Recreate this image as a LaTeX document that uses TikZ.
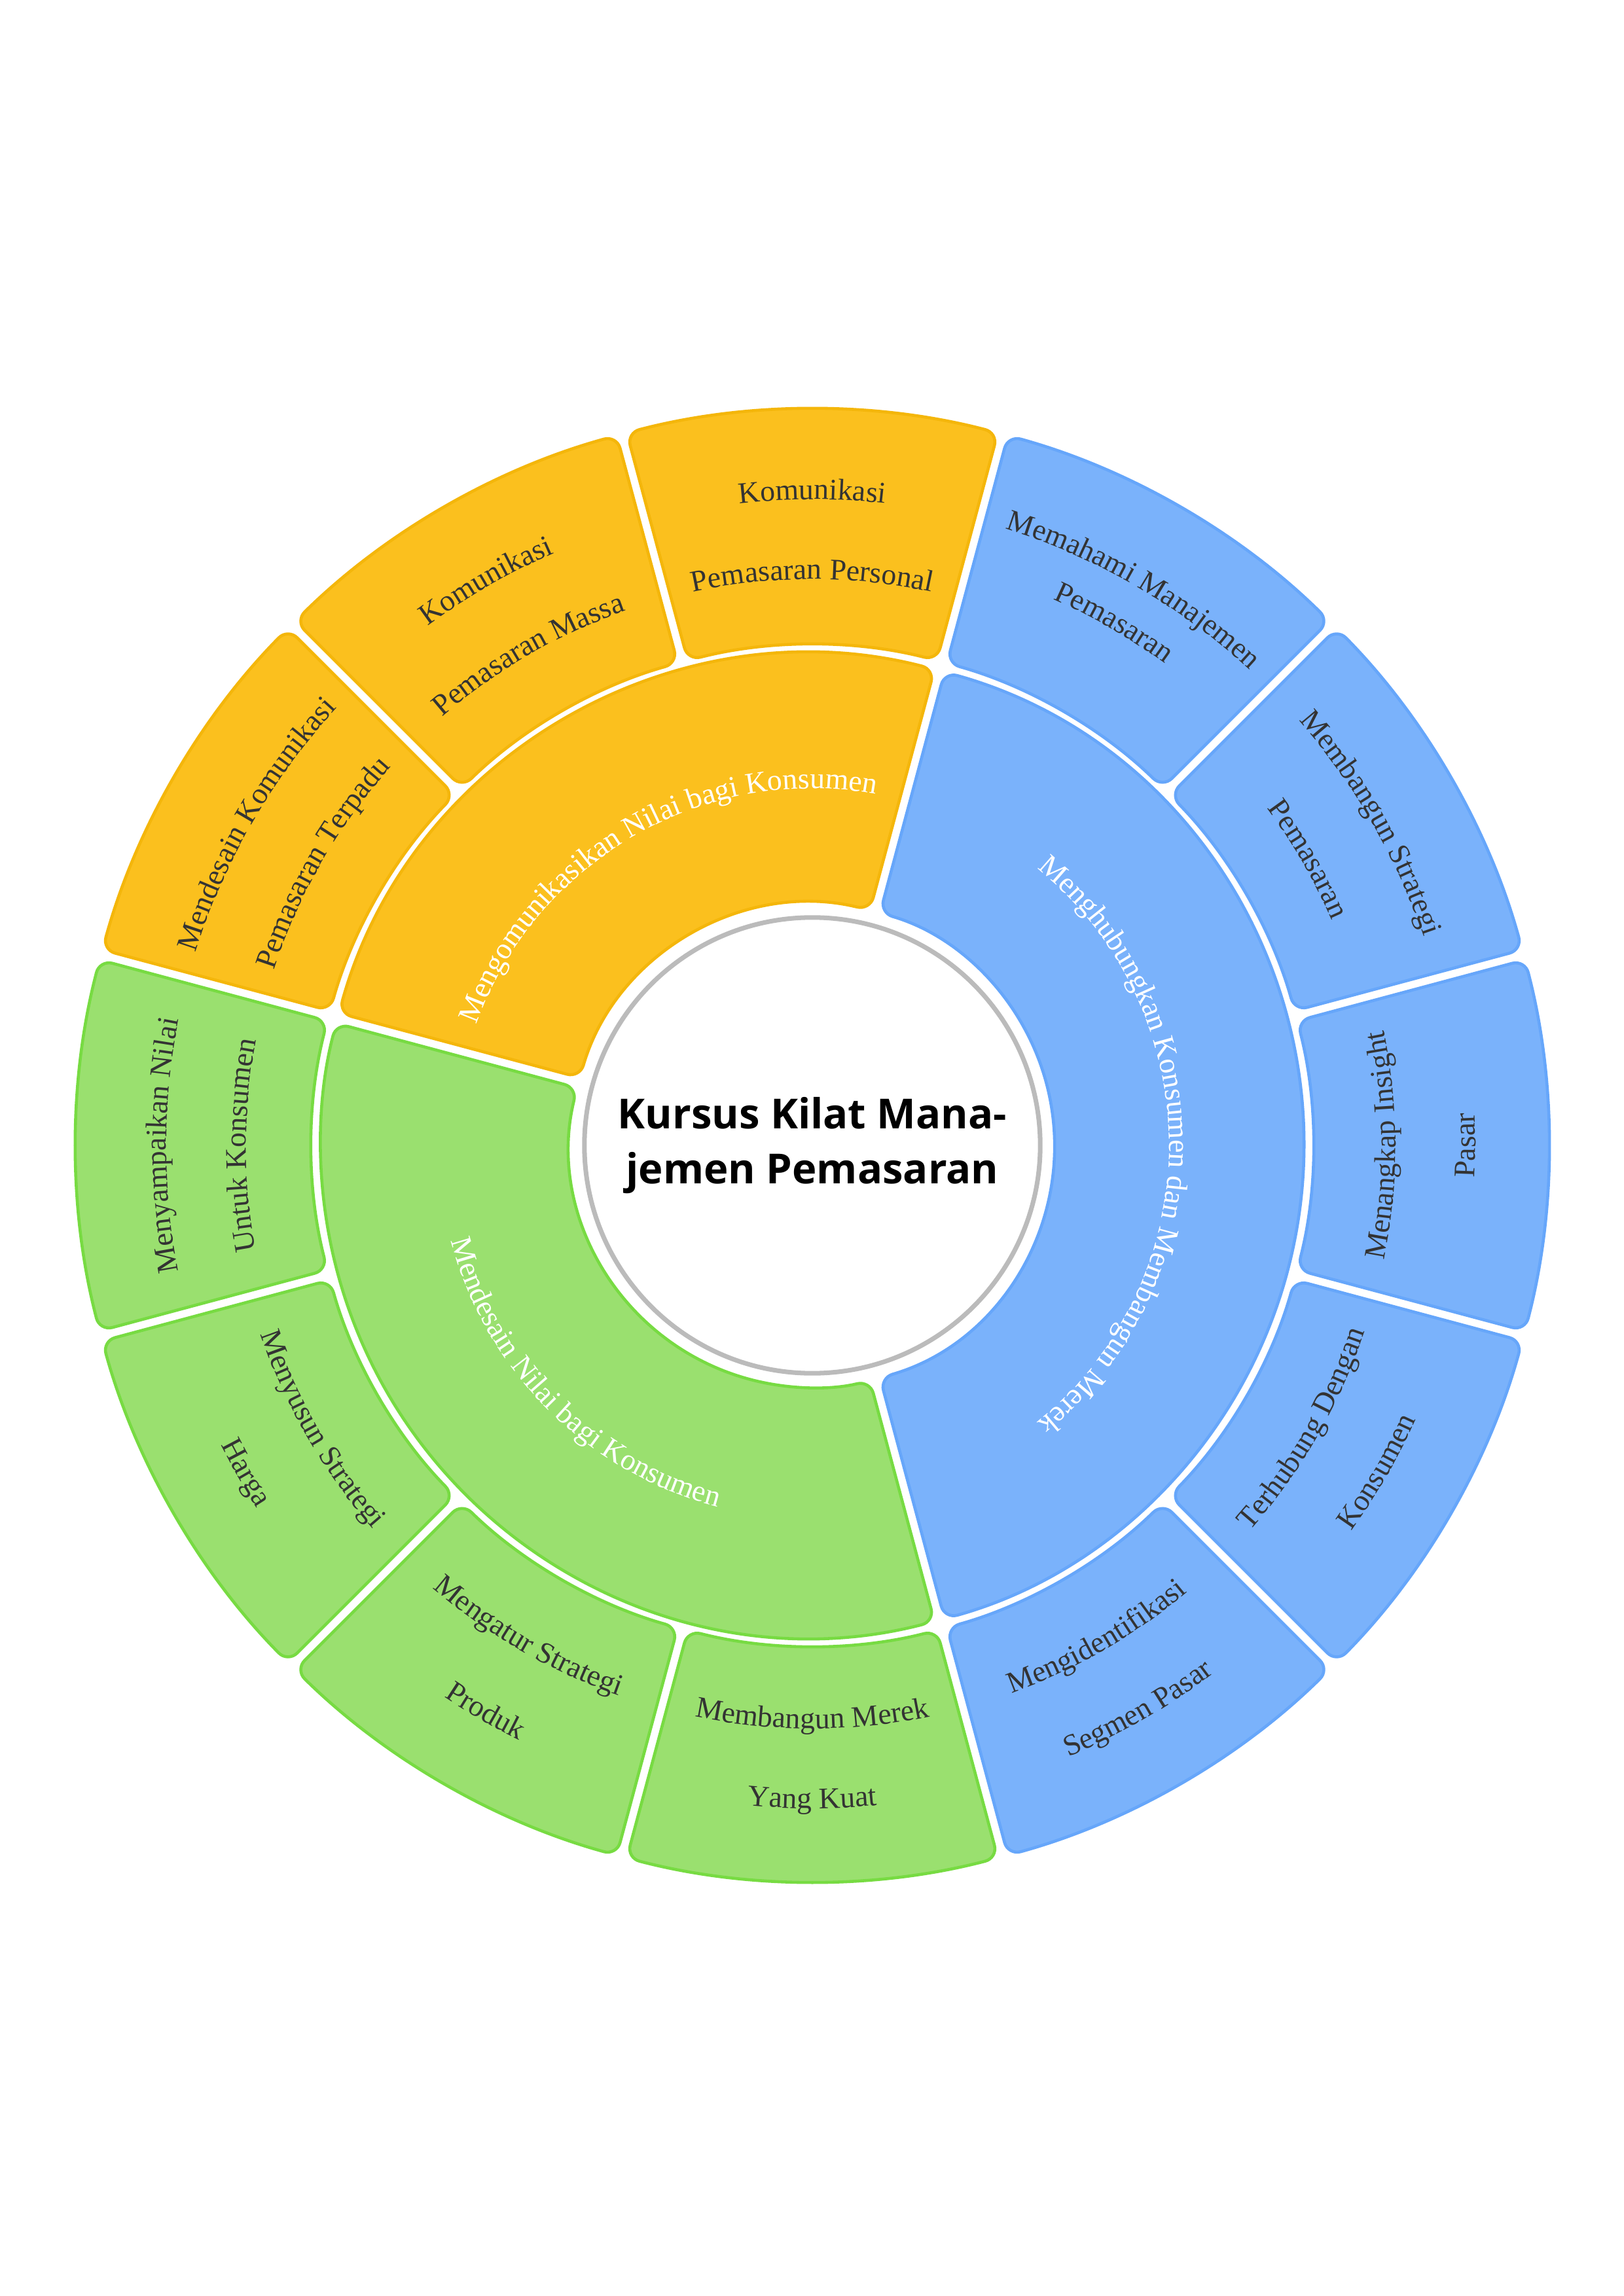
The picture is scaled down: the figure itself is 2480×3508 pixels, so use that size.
\documentclass[tikz,border=0pt]{standalone}
\usepackage{fontspec}
\setmainfont{Liberation Serif}
\newfontfamily\judulfont{Open Sans}
\usetikzlibrary{decorations.text}

\definecolor{kuningisi}{HTML}{FBC01E}
\definecolor{kuningtepi}{HTML}{F4B60A}
\definecolor{biruisi}{HTML}{7AB2FB}
\definecolor{birutepi}{HTML}{66A6FA}
\definecolor{hijauisi}{HTML}{9AE06F}
\definecolor{hijautepi}{HTML}{77DB42}
\definecolor{abutepi}{HTML}{BBBBBB}
\definecolor{teksgelap}{HTML}{333333}

% sektor cincin: sudut awal (besar), sudut akhir, r dalam, r luar, gaya
\newcommand{\sektor}[5]{%
  \pgfmathsetmacro{\sudutA}{#1-asin(8/#4)}%
  \pgfmathsetmacro{\sudutB}{#2+asin(8/#4)}%
  \pgfmathsetmacro{\sudutC}{#2+asin(8/#3)}%
  \pgfmathsetmacro{\sudutD}{#1-asin(8/#3)}%
  \draw[#5] (\sudutA:#4) arc[start angle=\sudutA,end angle=\sudutB,radius=#4]
    -- (\sudutC:#3) arc[start angle=\sudutC,end angle=\sudutD,radius=#3] -- cycle;}

% teks melengkung: sudut mulai, sudut akhir, radius, warna, teks
\newcommand{\tulisbusur}[5]{%
  \path[decorate,decoration={text along path,text align=center,
    text={|\fontsize{13}{15}\selectfont\color{#4}|#5}}]
    (#1:#3) arc[start angle=#1,end angle=#2,radius=#3];}

\begin{document}
\begin{tikzpicture}[x=0.01cm,y=0.01cm,
  seg/.style={line width=1.3pt,rounded corners=0.2cm},
  kuning/.style={seg,fill=kuningisi,draw=kuningtepi},
  biru/.style={seg,fill=biruisi,draw=birutepi},
  hijau/.style={seg,fill=hijauisi,draw=hijautepi},
  judul/.style={circle,draw=abutepi,line width=2pt,fill=white,
    minimum size=6.96cm,inner sep=0pt,align=center,
    font=\judulfont\bfseries\fontsize{18}{24}\selectfont}]
\useasboundingbox (-1241,-1758) rectangle (1239,1750);

% cincin dalam
\sektor{165}{75}{370}{751}{kuning}
\sektor{75}{-75}{370}{751}{biru}
\sektor{285}{165}{370}{751}{hijau}

% cincin luar
\sektor{105}{75}{765}{1125}{kuning}
\sektor{135}{105}{765}{1125}{kuning}
\sektor{165}{135}{765}{1125}{kuning}
\sektor{195}{165}{765}{1125}{hijau}
\sektor{225}{195}{765}{1125}{hijau}
\sektor{255}{225}{765}{1125}{hijau}
\sektor{285}{255}{765}{1125}{hijau}
\sektor{315}{285}{765}{1125}{biru}
\sektor{345}{315}{765}{1125}{biru}
\sektor{15}{-15}{765}{1125}{biru}
\sektor{45}{15}{765}{1125}{biru}
\sektor{75}{45}{765}{1125}{biru}

% label cincin dalam
\tulisbusur{165}{75}{545}{white}{Mengomunikasikan Nilai bagi Konsumen}
\tulisbusur{75}{-75}{545}{white}{Menghubungkan Konsumen dan Membangun Merek}
\tulisbusur{165}{285}{571}{white}{Mendesain Nilai bagi Konsumen}

% label cincin luar (atas: searah jarum jam)
\tulisbusur{105}{75}{987}{teksgelap}{Komunikasi}
\tulisbusur{105}{75}{865}{teksgelap}{Pemasaran Personal}
\tulisbusur{135}{105}{987}{teksgelap}{Komunikasi}
\tulisbusur{135}{105}{865}{teksgelap}{Pemasaran Massa}
\tulisbusur{165}{135}{987}{teksgelap}{Mendesain Komunikasi}
\tulisbusur{165}{135}{865}{teksgelap}{Pemasaran Terpadu}
\tulisbusur{195}{165}{987}{teksgelap}{Menyampaikan Nilai}
\tulisbusur{195}{165}{865}{teksgelap}{Untuk Konsumen}
\tulisbusur{75}{45}{987}{teksgelap}{Memahami Manajemen}
\tulisbusur{75}{45}{912}{teksgelap}{Pemasaran}
\tulisbusur{45}{15}{987}{teksgelap}{Membangun Strategi}
\tulisbusur{45}{15}{865}{teksgelap}{Pemasaran}

% label cincin luar (bawah: berlawanan jarum jam)
\tulisbusur{195}{225}{891}{teksgelap}{Menyusun Strategi}
\tulisbusur{195}{225}{1013}{teksgelap}{Harga}
\tulisbusur{225}{255}{891}{teksgelap}{Mengatur Strategi}
\tulisbusur{225}{255}{1013}{teksgelap}{Produk}
\tulisbusur{255}{285}{891}{teksgelap}{Membangun Merek}
\tulisbusur{255}{285}{1013}{teksgelap}{Yang Kuat}
\tulisbusur{285}{315}{891}{teksgelap}{Mengidentifikasi}
\tulisbusur{285}{315}{1013}{teksgelap}{Segmen Pasar}
\tulisbusur{315}{345}{891}{teksgelap}{Terhubung Dengan}
\tulisbusur{315}{345}{1013}{teksgelap}{Konsumen}
\tulisbusur{-15}{15}{891}{teksgelap}{Menangkap Insight}
\tulisbusur{-15}{15}{1013}{teksgelap}{Pasar}

% lingkaran pusat
\node[judul] (pusat) at (0,0) {Kursus Kilat Mana-\\jemen Pemasaran};
\end{tikzpicture}
\end{document}
